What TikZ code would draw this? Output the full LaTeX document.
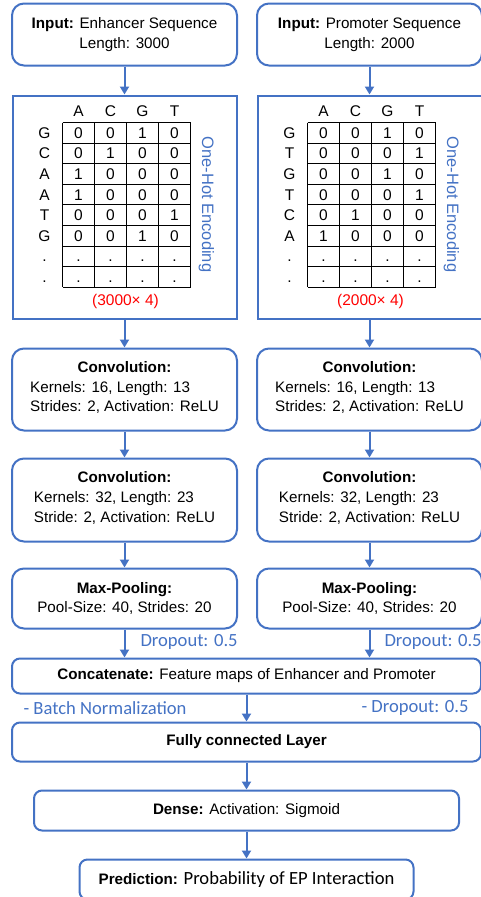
\documentclass[tikz,border=0pt]{standalone}
\usepackage{fontspec}
\setmainfont{Liberation Sans}
\newfontfamily\calfont{Carlito}
\usepackage{xcolor}
\usepackage{tikz}
\usetikzlibrary{positioning,arrows.meta}

\definecolor{epblue}{HTML}{4472C4}
\definecolor{epred}{HTML}{FF0000}

\tikzset{
  block/.style={draw=epblue, line width=2pt, rounded corners=12pt, align=center,
    inner sep=0pt, font=\fontsize{15.2}{19.7}\selectfont},
  onehot/.style={draw=epblue, line width=2pt, minimum width=224pt,
    minimum height=223pt, inner sep=0pt},
  arr/.style={-{Triangle[width=9pt,length=8pt]}, epblue, line width=2pt},
  note/.style={text=epblue, font=\calfont\fontsize{18.6}{22}\selectfont, inner sep=0pt},
  cell/.style={font=\fontsize{15.5}{18}\selectfont, inner sep=0pt,
    text height=11pt, text depth=0pt},
  size/.style={cell, text=epred},
  enc/.style={rotate=-90, text=epblue, inner sep=0pt, font=\fontsize{16.5}{18}\selectfont},
}

\begin{document}
\begin{tikzpicture}[x=1pt, y=-1pt]
\useasboundingbox (0,0) rectangle (480,897);

% inputs %
\node[block, minimum width=225pt, minimum height=62pt] (inEnh) at (124.5,34.5)
  {\textbf{Input:} Enhancer Sequence\\Length: 3000};
\node[block, minimum width=225pt, minimum height=62pt] (inPro) at (369.5,34.5)
  {\textbf{Input:} Promoter Sequence\\Length: 2000};

% one-hot boxes %
\node[onehot, below=28pt of inEnh] (ohEnh) {};
\node[onehot, below=28pt of inPro] (ohPro) {};

% enhancer table %
\begin{scope}[shift={(ohEnh.north west)}]
  \foreach \c in {0,...,4} \draw[line width=0.9pt] (51+32*\c,28) -- (51+32*\c,192.8);
  \foreach \r in {0,...,8} \draw[line width=0.9pt] (51,28+20.6*\r) -- (179,28+20.6*\r);
  \foreach \h [count=\c from 0] in {A,C,G,T} \node[cell] (eh\c) at (67+32*\c,16) {\h};
  \foreach \l [count=\r from 0] in {G,C,A,A,T,G,.,.} \node[cell] (el\r) at (33,38.3+20.6*\r) {\l};
  \foreach \row [count=\r from 0] in {{0,0,1,0},{0,1,0,0},{1,0,0,0},{1,0,0,0},{0,0,0,1},{0,0,1,0},{.,.,.,.},{.,.,.,.}}
    \foreach \v [count=\c from 0] in \row \node[cell] (e-\r-\c) at (67+32*\c,38.3+20.6*\r) {\v};
  \node[size] (eSize) at (114,205) {(3000× 4)};
  \node[enc] (eEnc) at (195,110) {One-Hot Encoding};
\end{scope}

% promoter table %
\begin{scope}[shift={(ohPro.north west)}]
  \foreach \c in {0,...,4} \draw[line width=0.9pt] (51+32*\c,28) -- (51+32*\c,192.8);
  \foreach \r in {0,...,8} \draw[line width=0.9pt] (51,28+20.6*\r) -- (179,28+20.6*\r);
  \foreach \h [count=\c from 0] in {A,C,G,T} \node[cell] (ph\c) at (67+32*\c,16) {\h};
  \foreach \l [count=\r from 0] in {G,T,G,T,C,A,.,.} \node[cell] (pl\r) at (33,38.3+20.6*\r) {\l};
  \foreach \row [count=\r from 0] in {{0,0,1,0},{0,0,0,1},{0,0,1,0},{0,0,0,1},{0,1,0,0},{1,0,0,0},{.,.,.,.},{.,.,.,.}}
    \foreach \v [count=\c from 0] in \row \node[cell] (p-\r-\c) at (67+32*\c,38.3+20.6*\r) {\v};
  \node[size] (pSize) at (114,205) {(2000× 4)};
  \node[enc] (pEnc) at (195,110) {One-Hot Encoding};
\end{scope}

% convolutions %
\node[block, minimum width=225pt, minimum height=82pt, below=28pt of ohEnh] (convEnhA)
  {\textbf{Convolution:}\\\begin{tabular}[t]{@{}l@{}}Kernels: 16, Length: 13\\Strides: 2, Activation: ReLU\end{tabular}};
\node[block, minimum width=225pt, minimum height=82pt, below=28pt of ohPro] (convProA)
  {\textbf{Convolution:}\\\begin{tabular}[t]{@{}l@{}}Kernels: 16, Length: 13\\Strides: 2, Activation: ReLU\end{tabular}};
\node[block, minimum width=225pt, minimum height=83pt, below=26pt of convEnhA] (convEnhB)
  {\textbf{Convolution:}\\\begin{tabular}[t]{@{}l@{}}Kernels: 32, Length: 23\\Stride: 2, Activation: ReLU\end{tabular}};
\node[block, minimum width=225pt, minimum height=83pt, below=26pt of convProA] (convProB)
  {\textbf{Convolution:}\\\begin{tabular}[t]{@{}l@{}}Kernels: 32, Length: 23\\Stride: 2, Activation: ReLU\end{tabular}};

% pooling %
\node[block, minimum width=225pt, minimum height=60pt, below=25pt of convEnhB] (poolEnh)
  {\textbf{Max-Pooling:}\\Pool-Size: 40, Strides: 20};
\node[block, minimum width=225pt, minimum height=60pt, below=25pt of convProB] (poolPro)
  {\textbf{Max-Pooling:}\\Pool-Size: 40, Strides: 20};

% merged part %
\node[block, rounded corners=8pt, minimum width=469pt, minimum height=35pt, anchor=north west]
  (concat) at ([yshift=-28pt]poolEnh.south west)
  {\textbf{Concatenate:} Feature maps of Enhancer and Promoter};
\node[block, rounded corners=8pt, minimum width=469pt, minimum height=39pt, below=27pt of concat] (fc)
  {\textbf{Fully connected Layer}};
\node[block, rounded corners=8pt, minimum width=425pt, minimum height=40pt, below=27pt of fc] (dense)
  {\textbf{Dense:} Activation: Sigmoid};
\node[block, rounded corners=8pt, minimum width=334pt, minimum height=40pt, below=27pt of dense] (pred)
  {\textbf{Prediction:} {\calfont\fontsize{18.6}{22}\selectfont Probability of EP Interaction}};

% edges %
\draw[arr] (inEnh) -- (ohEnh);
\draw[arr] (inPro) -- (ohPro);
\draw[arr] (ohEnh) -- (convEnhA);
\draw[arr] (ohPro) -- (convProA);
\draw[arr] (convEnhA) -- (convEnhB);
\draw[arr] (convProA) -- (convProB);
\draw[arr] (convEnhB) -- (poolEnh);
\draw[arr] (convProB) -- (poolPro);
\draw[arr] (poolEnh) -- (poolEnh |- concat.north)
  node[midway, right=15pt, yshift=2pt, note] (dropEnh) {Dropout: 0.5};
\draw[arr] (poolPro) -- (poolPro |- concat.north)
  node[midway, right=14pt, yshift=2pt, note] (dropPro) {Dropout: 0.5};
\draw[arr] (concat) -- (fc)
  node[midway, left=59pt, note] (bn) {- Batch Normalization}
  node[midway, right=114pt, note] (dropCat) {- Dropout: 0.5};
\draw[arr] (fc) -- (dense);
\draw[arr] (dense) -- (pred);

\end{tikzpicture}
\end{document}
